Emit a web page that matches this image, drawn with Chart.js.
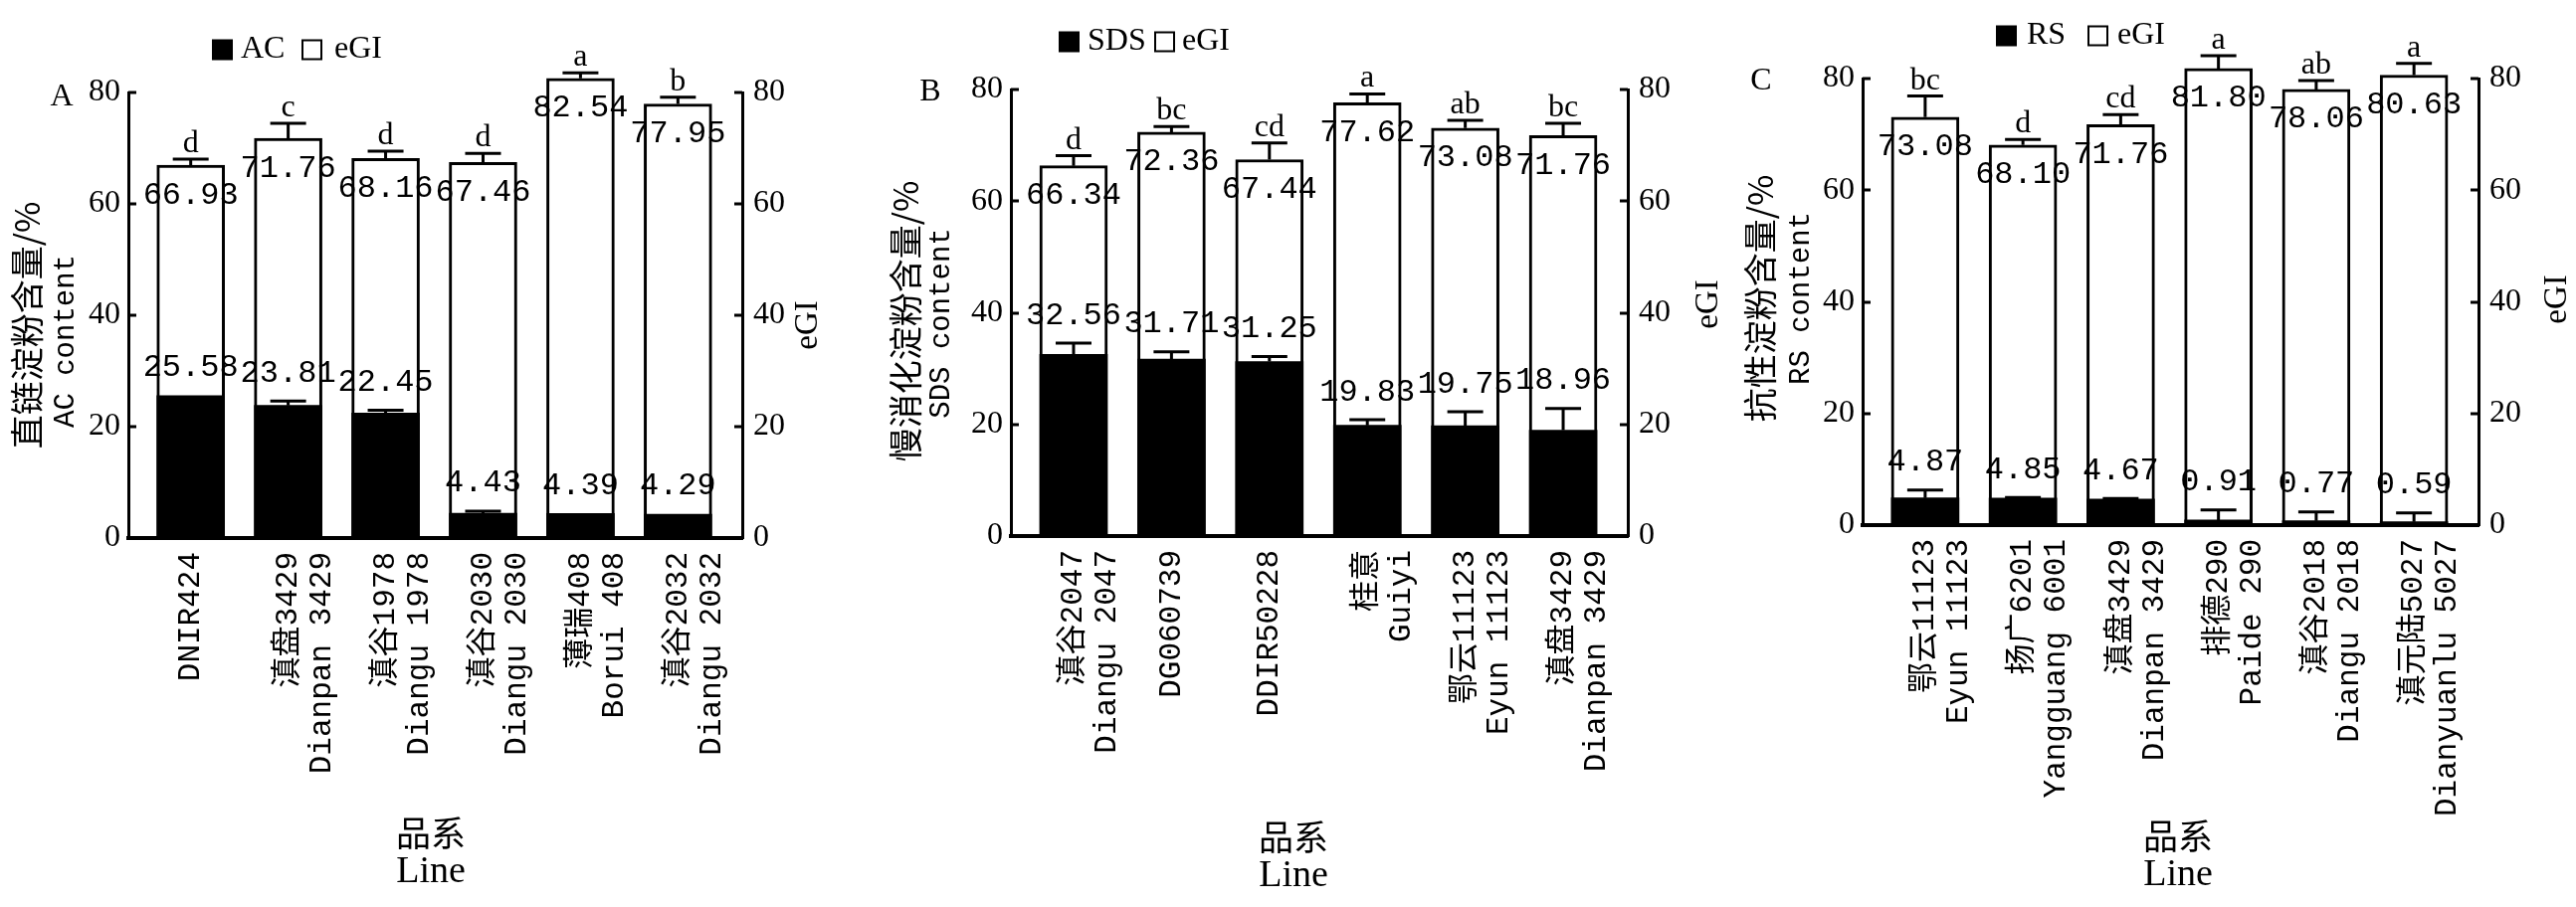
<!DOCTYPE html>
<html lang="zh">
<head>
  <meta charset="UTF-8">
  <title>AC / SDS / RS content and eGI</title>
  <script src="https://cdn.jsdelivr.net/npm/chart.js"></script>
  <style>
    html, body { margin: 0; padding: 0; background: #fff; }
    body { width: 2589px; height: 912px; position: relative; overflow: hidden; }
    canvas { position: absolute; top: 0; }
    #chartA { left: 0; }
    #chartB { left: 860px; }
    #chartC { left: 1720px; }
  </style>
</head>
<body>
  <canvas id="chartA" width="880" height="912"></canvas>
  <canvas id="chartB" width="880" height="912"></canvas>
  <canvas id="chartC" width="869" height="912"></canvas>

  <script>
    // Panel A: amylose content
    const linesA = ['DNIR424', ['滇盘3429', 'Dianpan 3429'], ['滇谷1978', 'Diangu 1978'],
      ['滇谷2030', 'Diangu 2030'], ['薄瑞408', 'Borui 408'], ['滇谷2032', 'Diangu 2032']];
    const acContent = [25.58, 23.81, 22.45, 4.43, 4.39, 4.29];
    const acErr = [0, 0.8, 0.5, 0.4, 0, 0];
    const egiA = [66.93, 71.76, 68.16, 67.46, 82.54, 77.95];
    const egiErrA = [1.1, 2.7, 1.3, 1.6, 1.0, 1.2];
    const sigA = ['d', 'c', 'd', 'd', 'a', 'b'];

    // Panel B: slowly digestible starch
    const linesB = [['滇谷2047', 'Diangu 2047'], 'DG060739', 'DDIR50228', ['桂意', 'Guiyi'],
      ['鄂云11123', 'Eyun 11123'], ['滇盘3429', 'Dianpan 3429']];
    const sdsContent = [32.56, 31.71, 31.25, 19.83, 19.75, 18.96];
    const sdsErr = [2.0, 1.3, 0.9, 1.0, 2.5, 3.9];
    const egiB = [66.34, 72.36, 67.44, 77.62, 73.08, 71.76];
    const egiErrB = [1.8, 1.0, 3.0, 1.6, 1.4, 2.2];
    const sigB = ['d', 'bc', 'cd', 'a', 'ab', 'bc'];

    // Panel C: resistant starch
    const linesC = [['鄂云11123', 'Eyun 11123'], ['扬广6201', 'Yangguang 6001'], ['滇盘3429', 'Dianpan 3429'],
      ['排德290', 'Paide 290'], ['滇谷2018', 'Diangu 2018'], ['滇元陆5027', 'Dianyuanlu 5027']];
    const rsContent = [4.87, 4.85, 4.67, 0.91, 0.77, 0.59];
    const rsErr = [1.4, 0.1, 0.1, 1.8, 1.6, 1.6];
    const egiC = [73.08, 68.10, 71.76, 81.80, 78.06, 80.63];
    const egiErrC = [3.8, 1.0, 1.8, 2.3, 1.6, 2.1];
    const sigC = ['bc', 'd', 'cd', 'a', 'ab', 'a'];

    const yTicks = [0, 20, 40, 60, 80];

    Chart.defaults.color = '#000';

    const SERIF = "'Liberation Serif'";
    const MONO = "'Liberation Mono', 'Noto Sans CJK SC'";
    const CJK = "'Noto Sans CJK SC'";

    function drawRotated(ctx, text, x, y, font) {
      ctx.save();
      ctx.translate(x, y);
      ctx.rotate(-Math.PI / 2);
      ctx.font = font;
      ctx.textAlign = 'center';
      ctx.textBaseline = 'middle';
      ctx.fillText(text, 0, 0);
      ctx.restore();
    }

    function makeDeco(p) {
      return {
        id: 'deco' + p.letter,
        afterDatasetsDraw(chart) {
          const ctx = chart.ctx, a = chart.chartArea, ys = chart.scales.y;
          ctx.save();
          ctx.strokeStyle = '#000';
          ctx.fillStyle = '#000';
          ctx.lineWidth = 3;

          // inward tick marks on both axes
          yTicks.forEach(v => {
            if (v === 0) return;
            const py = Math.round(ys.getPixelForValue(v));
            ctx.beginPath();
            ctx.moveTo(a.left, py); ctx.lineTo(a.left + 8, py);
            ctx.moveTo(a.right, py); ctx.lineTo(a.right - 8, py);
            ctx.stroke();
          });

          const capY = (vals, errs, i) => ys.getPixelForValue(vals[i] + errs[i]);
          const drawErr = (meta, vals, errs) => {
            meta.data.forEach((bar, i) => {
              if (!errs[i]) return;
              const top = capY(vals, errs, i);
              ctx.beginPath();
              ctx.moveTo(bar.x, bar.y); ctx.lineTo(bar.x, top);
              ctx.moveTo(bar.x - 18, top); ctx.lineTo(bar.x + 18, top);
              ctx.stroke();
            });
          };
          const m0 = chart.getDatasetMeta(0), m1 = chart.getDatasetMeta(1);
          drawErr(m1, p.egi, p.egiErr);
          drawErr(m0, p.content, p.contentErr);

          // value labels
          ctx.textAlign = 'center';
          ctx.font = '32px ' + MONO;
          ctx.textBaseline = 'top';
          m1.data.forEach((bar, i) => ctx.fillText(p.egi[i].toFixed(2), bar.x, bar.y + 14));
          ctx.textBaseline = 'bottom';
          m0.data.forEach((bar, i) => ctx.fillText(p.content[i].toFixed(2), bar.x, capY(p.content, p.contentErr, i) - 12));

          // significance letters
          ctx.font = '32px ' + SERIF;
          ctx.textBaseline = 'alphabetic';
          m1.data.forEach((bar, i) => ctx.fillText(p.sig[i], bar.x, capY(p.egi, p.egiErr, i) - 7));
          ctx.restore();
        },
        afterDraw(chart) {
          const ctx = chart.ctx;
          ctx.save();
          ctx.fillStyle = '#000';
          ctx.strokeStyle = '#000';
          ctx.textBaseline = 'middle';

          // panel letter
          ctx.textAlign = 'center';
          ctx.font = '32px ' + SERIF;
          ctx.fillText(p.letter, p.letterPos[0], p.letterPos[1]);

          // legend
          const [sx1, tx1, sx2, tx2] = p.legendX;
          const ly = p.legendY, s = 21;
          ctx.fillRect(sx1, ly - s / 2, s, s);
          ctx.lineWidth = 2;
          ctx.strokeRect(sx2 + 1, ly - s / 2 + 1, s - 2, s - 2);
          ctx.textAlign = 'left';
          ctx.fillText(p.names[0], tx1, ly);
          ctx.fillText(p.names[1], tx2, ly);

          // axis titles
          drawRotated(ctx, p.yTitle[0], p.titleX[0], p.titleY[0], '34px ' + CJK);
          drawRotated(ctx, p.yTitle[1], p.titleX[1], p.titleY[1], '29px ' + MONO);
          drawRotated(ctx, 'eGI', p.rightTitle[0], p.rightTitle[1], '33px ' + SERIF);
          ctx.textAlign = 'center';
          ctx.font = '35px ' + CJK;
          ctx.fillText('品系', p.bottomX, p.bottomY[0]);
          ctx.font = '38px ' + SERIF;
          ctx.fillText('Line', p.bottomX, p.bottomY[1]);
          ctx.restore();
        }
      };
    }

    function makePanel(p) {
      const canvas = document.getElementById(p.canvas);
      const W = canvas.width, H = canvas.height;
      const tickFont = { family: SERIF, size: 32 };
      new Chart(canvas, {
        type: 'bar',
        data: {
          datasets: [
            {
              label: p.names[0],
              data: p.content.map((v, i) => ({ x: i, y: v })),
              backgroundColor: '#000',
              borderWidth: 0,
              grouped: false,
              clip: false,
              yAxisID: 'y'
            },
            {
              label: p.names[1],
              data: p.egi.map((v, i) => ({ x: i, y: v })),
              backgroundColor: '#fff',
              borderColor: '#000',
              borderWidth: 3,
              borderSkipped: 'start',
              grouped: false,
              clip: false,
              yAxisID: 'y2'
            }
          ]
        },
        options: {
          responsive: false,
          animation: false,
          barThickness: 68,
          layout: { padding: { top: p.area.top, left: 0, right: 0, bottom: 0 } },
          scales: {
            x: {
              type: 'linear',
              bounds: 'data',
              offset: false,
              min: -0.64,
              max: p.lines.length - 0.34,
              grid: { display: false, drawTicks: false, offset: false },
              border: { display: true, width: 4, color: '#000' },
              afterBuildTicks: s => { s.ticks = p.lines.map((_, i) => ({ value: i })); },
              afterFit: s => { s.height = H - p.area.bottom; },
              ticks: {
                autoSkip: false,
                minRotation: 90,
                maxRotation: 90,
                padding: 14,
                font: { family: MONO, size: 31, lineHeight: 1.1 },
                callback: v => p.lines[v]
              }
            },
            y: {
              position: 'left',
              min: 0,
              max: 80,
              grid: { display: false, drawTicks: false },
              border: { display: true, width: 3, color: '#000' },
              ticks: { stepSize: 20, padding: 8, font: tickFont },
              afterFit: s => { s.width = p.area.left; }
            },
            y2: {
              position: 'right',
              min: 0,
              max: 80,
              grid: { display: false, drawTicks: false },
              border: { display: true, width: 3, color: '#000' },
              ticks: { stepSize: 20, padding: 11, font: tickFont },
              afterFit: s => { s.width = W - p.area.right; }
            }
          },
          plugins: {
            legend: { display: false },
            tooltip: { enabled: false }
          }
        },
        plugins: [makeDeco(p)]
      });
    }

    makePanel({
      canvas: 'chartA', letter: 'A', names: ['AC', 'eGI'],
      lines: linesA, content: acContent, contentErr: acErr, egi: egiA, egiErr: egiErrA, sig: sigA,
      yTitle: ['直链淀粉含量/%', 'AC content'],
      area: { left: 129, right: 746, top: 93, bottom: 541 },
      letterPos: [62, 98], legendX: [213, 242, 303, 336], legendY: 50,
      titleX: [27, 66], titleY: [327, 343], rightTitle: [812, 327],
      bottomX: 433, bottomY: [838, 877]
    });

    makePanel({
      canvas: 'chartB', letter: 'B', names: ['SDS', 'eGI'],
      lines: linesB, content: sdsContent, contentErr: sdsErr, egi: egiB, egiErr: egiErrB, sig: sigB,
      yTitle: ['慢消化淀粉含量/%', 'SDS content'],
      area: { left: 156, right: 776, top: 90, bottom: 539 },
      letterPos: [75, 93], legendX: [204, 233, 300, 328], legendY: 42,
      titleX: [50, 86], titleY: [323, 325], rightTitle: [857, 306],
      bottomX: 440, bottomY: [842, 881]
    });

    makePanel({
      canvas: 'chartC', letter: 'C', names: ['RS', 'eGI'],
      lines: linesC, content: rsContent, contentErr: rsErr, egi: egiC, egiErr: egiErrC, sig: sigC,
      yTitle: ['抗性淀粉含量/%', 'RS content'],
      area: { left: 152, right: 771, top: 79, bottom: 528 },
      letterPos: [50, 82], legendX: [286, 317, 378, 408], legendY: 36,
      titleX: [49, 90], titleY: [300, 300], rightTitle: [850, 301],
      bottomX: 469, bottomY: [841, 880]
    });
  </script>
</body>
</html>
